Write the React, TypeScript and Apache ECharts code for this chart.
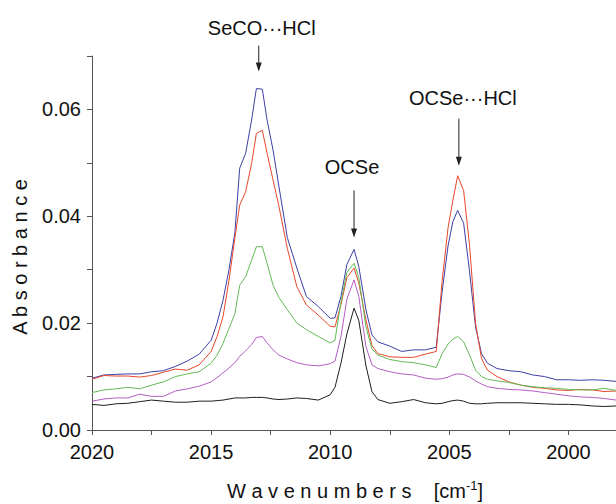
import React, { useEffect, useRef } from "react";
import * as echarts from "echarts";

// Wavenumber grid (cm^-1), shared by all traces
const wavenumbers = [
  2020, 2019.5, 2019, 2018.5, 2018, 2017.5, 2017, 2016.5, 2016, 2015.5, 2015,
  2014.75, 2014.5, 2014.25, 2014,
  2013.8, 2013.55, 2013.3, 2013.1, 2012.85, 2012.65, 2012.4, 2012.15,
  2011.8, 2011.4, 2011, 2010.5, 2010,
  2009.8, 2009.55, 2009.3, 2009, 2008.8, 2008.5, 2008.25, 2008,
  2007.5, 2007, 2006.5, 2006,
  2005.55, 2005.3, 2005.05, 2004.85, 2004.65, 2004.4, 2004.15, 2003.9, 2003.65, 2003.4,
  2003, 2002.5, 2002, 2001.5, 2001, 2000.5, 2000, 1999.5, 1999, 1998.5, 1998,
];

const absorbanceBlue = [
  0.0097, 0.0103, 0.0104, 0.0105, 0.0105, 0.0109, 0.0111, 0.0119, 0.0129, 0.0142, 0.0168,
  0.02, 0.0243, 0.03, 0.037,
  0.049, 0.0518, 0.058, 0.0639, 0.0638, 0.058, 0.0524, 0.0455,
  0.036, 0.0303, 0.025, 0.0231, 0.0209,
  0.021, 0.025, 0.031, 0.0338, 0.0306, 0.0225, 0.0178, 0.0165,
  0.0157, 0.0147, 0.015, 0.015,
  0.0155, 0.026, 0.0346, 0.039, 0.0411, 0.0387, 0.0296, 0.0193, 0.0143, 0.0125,
  0.0115, 0.0111, 0.0109, 0.0103, 0.01, 0.0094, 0.0094, 0.0093, 0.0094, 0.0093, 0.0091,
];

const absorbanceRed = [
  0.0095, 0.0102, 0.0101, 0.0101, 0.0099, 0.0102, 0.0108, 0.0114, 0.0112, 0.0122, 0.0147,
  0.0175, 0.0212, 0.028, 0.036,
  0.0421, 0.0446, 0.0499, 0.0555, 0.0561, 0.0518, 0.0468, 0.0418,
  0.034, 0.0268, 0.0234, 0.0215, 0.0194,
  0.0193, 0.0235, 0.0285, 0.0303, 0.0275, 0.0206, 0.0158, 0.0143,
  0.0137, 0.0136, 0.0136, 0.0142,
  0.0147, 0.028, 0.038, 0.043, 0.0476, 0.0448, 0.0345, 0.02, 0.0134, 0.0112,
  0.01, 0.009, 0.0084, 0.008, 0.0078, 0.0075, 0.0074, 0.0076, 0.0075, 0.0072, 0.0073,
];

const absorbanceGreen = [
  0.007, 0.0075, 0.0077, 0.008, 0.0077, 0.0084, 0.009, 0.01, 0.0105, 0.0109, 0.0125,
  0.014, 0.0162, 0.019, 0.0218,
  0.0271, 0.0287, 0.0318, 0.0343, 0.0343, 0.0312, 0.0271, 0.0248,
  0.0225, 0.02, 0.0188, 0.0175, 0.0163,
  0.0168, 0.024, 0.0295, 0.0312, 0.0285, 0.0193, 0.0152, 0.014,
  0.0132, 0.0128, 0.0126, 0.0122,
  0.0117, 0.0143, 0.0161, 0.017, 0.0175, 0.0165, 0.014, 0.0112, 0.01, 0.0095,
  0.0092, 0.0089, 0.0084, 0.0081, 0.0079, 0.0078, 0.0076, 0.0075, 0.0075, 0.0078, 0.0074,
];

const absorbanceMagenta = [
  0.0054, 0.0058, 0.006, 0.006, 0.0067, 0.0063, 0.0063, 0.0073, 0.0077, 0.0082, 0.009,
  0.0098, 0.0107, 0.0116, 0.0126,
  0.0138, 0.0148, 0.016, 0.0173, 0.0175, 0.0163, 0.015, 0.014,
  0.0133, 0.0126, 0.0122, 0.012, 0.0124,
  0.0129, 0.0175, 0.0245, 0.0281, 0.025, 0.0156, 0.0122, 0.0115,
  0.0109, 0.0105, 0.0103, 0.0097,
  0.0095, 0.0096, 0.0099, 0.0103, 0.0105, 0.0104, 0.0099, 0.0092, 0.0086, 0.0081,
  0.0078, 0.0076, 0.0075, 0.0073, 0.007, 0.0067, 0.0064, 0.0062, 0.0061, 0.0059, 0.0056,
];

const absorbanceBlack = [
  0.0048, 0.0046, 0.0049, 0.005, 0.0053, 0.0056, 0.0054, 0.0052, 0.0052, 0.0054, 0.0054,
  0.0055, 0.0056, 0.0058, 0.006,
  0.006, 0.006, 0.0061, 0.0061, 0.0061, 0.006, 0.0058, 0.0057,
  0.0058, 0.006, 0.0059, 0.0056, 0.0066,
  0.008, 0.0125, 0.018, 0.0228, 0.0205, 0.012, 0.0072, 0.0057,
  0.005, 0.0053, 0.0057, 0.0051,
  0.0049, 0.005, 0.0053, 0.0055, 0.0056, 0.0054, 0.005, 0.0049, 0.0049, 0.005,
  0.0051, 0.0051, 0.0051, 0.005, 0.0049, 0.0048, 0.0048, 0.0047, 0.0045, 0.0044, 0.0045,
];

const traces = [
  { values: absorbanceBlue, color: "#3d3fa6" },
  { values: absorbanceRed, color: "#e8472b" },
  { values: absorbanceGreen, color: "#62ba55" },
  { values: absorbanceMagenta, color: "#b45cc4" },
  { values: absorbanceBlack, color: "#1e1e1e" },
];

// Band assignments marked with arrows
const bands = [
  { label: "SeCO\u00b7\u00b7\u00b7HCl", wavenumber: 2013.0, gap: 17, length: 26, textGap: 18, dx: 3 },
  { label: "OCSe", wavenumber: 2009.0, gap: 12, length: 47, textGap: 23, dx: -2 },
  { label: "OCSe\u00b7\u00b7\u00b7HCl", wavenumber: 2004.6, gap: 10, length: 47, textGap: 21, dx: 4 },
];

const FONT = "'Liberation Sans', Arial, Helvetica, sans-serif";
const INK = "#111";

function nearestIndex(w: number) {
  let best = 0;
  wavenumbers.forEach((v, i) => {
    if (Math.abs(v - w) < Math.abs(wavenumbers[best] - w)) best = i;
  });
  return best;
}

export default function App() {
  const ref = useRef<HTMLDivElement>(null);

  useEffect(() => {
    if (!ref.current) return;
    const chart = echarts.init(ref.current, undefined, { renderer: "svg" });

    chart.setOption({
      animation: false,
      backgroundColor: "#fff",
      textStyle: { fontFamily: FONT },
      // the axis runs on past the right edge, to 1997.5
      grid: {
        left: 92,
        width: 536,
        top: 56,
        height: 374,
        containLabel: false,
        outerBoundsMode: "none",
      },
      xAxis: {
        type: "value",
        inverse: true,
        min: 1997.5,
        max: 2020,
        interval: 2.5,
        axisLine: { show: true, lineStyle: { color: "#555", width: 1 } },
        axisTick: { show: true, inside: false, length: 5, lineStyle: { color: "#555" } },
        splitLine: { show: false },
        axisLabel: {
          color: INK,
          fontSize: 20,
          fontFamily: FONT,
          margin: 12,
          formatter: (v: number) => (Math.abs(v % 5) < 1e-6 ? String(v) : ""),
        },
      },
      yAxis: {
        type: "value",
        min: 0,
        max: 0.07,
        interval: 0.01,
        axisLine: { show: true, lineStyle: { color: "#555", width: 1 } },
        axisTick: { show: true, inside: false, length: 5, lineStyle: { color: "#555" } },
        splitLine: { show: false },
        axisLabel: {
          color: INK,
          fontSize: 20,
          fontFamily: FONT,
          margin: 11,
          formatter: (v: number) => (Math.round(v * 100) % 2 === 0 ? v.toFixed(2) : ""),
        },
      },
      series: traces.map((t) => ({
        type: "line",
        data: wavenumbers.map((w, i) => [w, t.values[i]]),
        showSymbol: false,
        symbol: "none",
        smooth: false,
        lineStyle: { color: t.color, width: 1 },
        itemStyle: { color: t.color },
        emphasis: { disabled: true },
      })),
    });

    // Arrows and band labels placed above the tallest trace at each band
    const graphics: any[] = [];
    bands.forEach((b) => {
      const idx = nearestIndex(b.wavenumber);
      const peak = Math.max(...traces.map((t) => t.values[idx]));
      const [px, py] = chart.convertToPixel({ gridIndex: 0 }, [b.wavenumber, peak]) as number[];
      const tip = py - b.gap;
      const tail = tip - b.length;
      graphics.push({
        type: "line",
        shape: { x1: px, y1: tail, x2: px, y2: tip - 4 },
        style: { stroke: "#222", lineWidth: 1 },
      });
      graphics.push({
        type: "polygon",
        shape: { points: [[px - 3, tip - 9], [px + 3, tip - 9], [px, tip]] },
        style: { fill: "#222" },
      });
      graphics.push({
        type: "text",
        x: px + b.dx,
        y: tail - b.textGap,
        style: {
          text: b.label,
          fontSize: 20,
          fontFamily: FONT,
          fill: INK,
          align: "center",
          verticalAlign: "middle",
        },
      });
    });

    // Axis titles
    graphics.push({
      type: "text",
      x: 20,
      y: 257,
      rotation: Math.PI / 2,
      style: {
        text: "A b s o r b a n c e",
        fontSize: 20,
        fontFamily: FONT,
        fill: INK,
        align: "center",
        verticalAlign: "middle",
      },
    });
    graphics.push({
      type: "text",
      x: 355,
      y: 491,
      style: {
        text: "{t|W a v e n u m b e r s    [cm}{s|-1}{t|]}",
        fontFamily: FONT,
        fill: INK,
        align: "center",
        verticalAlign: "middle",
        rich: {
          t: { fontSize: 20, fontFamily: FONT, fill: INK, lineHeight: 24 },
          s: { fontSize: 13, fontFamily: FONT, fill: INK, lineHeight: 24, padding: [0, 0, 12, 0] },
        },
      },
    });

    chart.setOption({ graphic: graphics });

    return () => chart.dispose();
  }, []);

  return (
    <div
      ref={ref}
      style={{ position: "fixed", left: 0, top: 0, width: 616, height: 504, background: "#fff" }}
    />
  );
}
